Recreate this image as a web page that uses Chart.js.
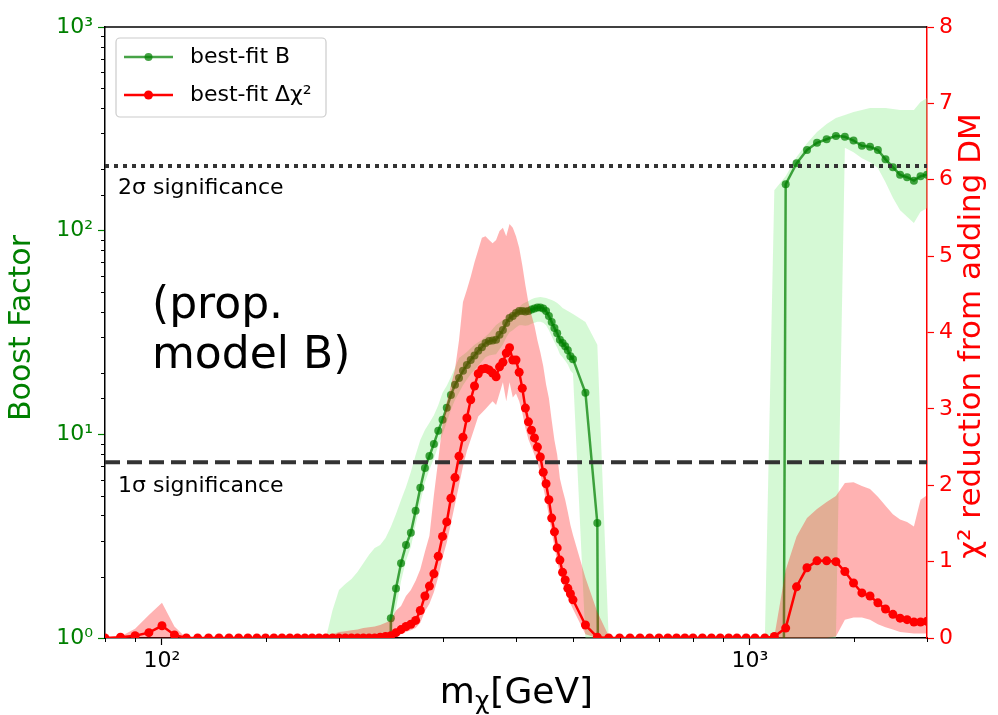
<!DOCTYPE html>
<html>
<head>
<meta charset="utf-8">
<title>Boost factor and chi2 reduction vs DM mass</title>
<script src="https://cdn.jsdelivr.net/npm/chart.js@4.4.0/dist/chart.umd.min.js"></script>
<style>
html, body { margin: 0; padding: 0; background: #fff; }
#wrap { width: 998px; height: 715px; }
</style>
</head>
<body>
<div id="wrap"><canvas id="myChart" width="998" height="715"></canvas></div>
<script>
// DM masses (GeV)
var masses = [
  80, 85, 90, 95, 100, 105, 110, 115, 120, 125, 130, 135, 140, 145, 150, 155, 160,
  165, 170, 175, 180, 185, 190, 195, 200, 205, 210, 215, 220, 225, 230, 235, 240,
  245, 250, 255, 260, 265, 270, 275, 280, 285, 290, 295, 300, 305, 310, 315, 320,
  325, 330, 335, 340, 345, 350, 355, 360, 365, 370, 375, 380, 385, 390, 395, 400,
  405, 410, 415, 420, 425, 430, 435, 440, 445, 450, 455, 460, 465, 470, 475, 480,
  485, 490, 495, 500,
  525, 550, 575, 600, 625, 650, 675, 700, 725, 750, 775, 800,
  830, 860, 890, 920, 950, 985, 1020, 1060, 1100,
  1150, 1200, 1250, 1300, 1350, 1400, 1450, 1500, 1550, 1600, 1650, 1700, 1750,
  1800, 1850, 1900, 1950, 2000
];

// best-fit boost factor (1e-12 = no boost, drawn below the axis)
var boostFactor = [
  1e-12, 1e-12, 1e-12, 1e-12, 1e-12, 1e-12, 1e-12, 1e-12, 1e-12, 1e-12, 1e-12, 1e-12, 1e-12, 1e-12, 1e-12, 1e-12, 1e-12,
  1e-12, 1e-12, 1e-12, 1e-12, 1e-12, 1e-12, 1e-12, 1e-12, 1e-12, 1e-12, 1e-12, 1e-12, 1e-12, 1e-12, 1e-12, 1e-12,
  1.25, 1.75, 2.33, 2.86, 3.29, 4.22, 5.47, 6.84, 7.83, 8.97, 10.4, 11.8, 13.5, 15.6, 17.5, 18.9,
  20.5, 21.9, 23.2, 24.4, 25.7, 26.8, 28.1, 28.7, 28.9, 29.1, 30.8, 32.5, 35.2, 37.3, 38.1, 39.4,
  40.3, 40.3, 40.1, 40.3, 41.0, 41.5, 42.0, 42.0, 41.5, 40.3, 38.1, 35.6, 33.3, 31.4, 29.1, 28.1,
  27.1, 25.9, 24.2, 23.4,
  16.0, 3.67, 1e-12, 1e-12, 1e-12, 1e-12, 1e-12, 1e-12, 1e-12, 1e-12, 1e-12, 1e-12,
  1e-12, 1e-12, 1e-12, 1e-12, 1e-12, 1e-12, 1e-12, 1e-12, 1e-12,
  169, 214, 249, 270, 281, 292, 289, 277, 261, 258, 249, 224, 205,
  188, 183, 176, 185, 188
];
var boostUpper = [
  1, 1, 1, 1, 1, 1, 1, 1, 1, 1, 1, 1, 1, 1, 1, 1, 1,
  1, 1, 1, 1, 1, 1, 1.37, 1.72, 1.84, 1.95, 2.11, 2.33, 2.56, 2.77, 2.86, 3.10,
  3.51, 4.06, 4.76, 5.51, 6.53, 7.92, 9.38, 10.5, 11.4, 12.4, 13.9, 16.0, 17.3, 19.1, 21.2, 23.7,
  24.5, 25.4, 26.5, 27.5, 28.3, 29.1, 30.2, 31.4, 32.9, 34.4, 35.4, 36.4, 37.2, 38.1, 39.4, 40.8,
  42.2, 43.6, 44.4, 45.2, 46.0, 46.7, 47.0, 47.2, 47.0, 46.7, 46.2, 45.7, 45.0, 44.2, 43.0, 41.7,
  41.0, 40.3, 39.6, 39.0,
  35.6, 27.5, 1, 1, 1, 1, 1, 1, 1, 1, 1, 1,
  1, 1, 1, 1, 1, 1, 1, 1, 158,
  185, 230, 269, 305, 334, 357, 370, 383, 391, 400, 400, 400, 396,
  391, 391, 391, 428, 448
];
var boostLower = [
  1, 1, 1, 1, 1, 1, 1, 1, 1, 1, 1, 1, 1, 1, 1, 1, 1,
  1, 1, 1, 1, 1, 1, 1, 1, 1, 1, 1, 1, 1, 1, 1, 1,
  1, 1.4, 1.9, 2.4, 2.8, 3.6, 4.6, 5.8, 6.7, 7.6, 8.8, 10.0, 11.5, 13.2, 14.8, 16.0,
  17.4, 18.6, 19.7, 20.7, 21.8, 22.8, 23.9, 24.4, 24.6, 24.7, 26.2, 27.6, 29.9, 31.7, 32.4, 33.5,
  34.3, 34.3, 34.1, 34.3, 34.9, 35.3, 35.7, 35.7, 35.3, 34.3, 32.4, 30.3, 28.3, 26.7, 24.7, 23.9,
  23.0, 22.0, 20.6, 19.9,
  1, 1, 1, 1, 1, 1, 1, 1, 1, 1, 1, 1,
  1, 1, 1, 1, 1, 1, 1, 1, 1,
  1, 1, 1, 1, 1, 1, 255, 243, 227, 217, 203, 173, 145,
  126, 117, 109, 124, 129
];

// best-fit chi2 reduction
var deltaChi2 = [
  0, 0.01, 0.03, 0.07, 0.16, 0.04, 0, 0, 0, 0, 0, 0, 0, 0, 0, 0, 0,
  0, 0, 0, 0, 0, 0, 0, 0, 0, 0, 0, 0, 0, 0, 0.01, 0.02,
  0.03, 0.07, 0.11, 0.15, 0.18, 0.23, 0.36, 0.55, 0.68, 0.84, 1.07, 1.33, 1.52, 1.83, 2.10, 2.38,
  2.63, 2.88, 3.12, 3.30, 3.46, 3.52, 3.53, 3.51, 3.47, 3.42, 3.55, 3.61, 3.73, 3.80, 3.64, 3.64,
  3.48, 3.27, 3.01, 2.83, 2.72, 2.62, 2.50, 2.37, 2.17, 2.02, 1.81, 1.57, 1.39, 1.18, 1.02, 0.86,
  0.76, 0.65, 0.58, 0.50,
  0.17, 0.01, 0, 0, 0, 0, 0, 0, 0, 0, 0, 0,
  0, 0, 0, 0, 0, 0, 0, 0, 0.02,
  0.13, 0.67, 0.92, 1.01, 1.01, 1.00, 0.87, 0.72, 0.59, 0.55, 0.46, 0.38, 0.31,
  0.26, 0.24, 0.21, 0.21, 0.22
];
var chi2Upper = [
  0, 0.02, 0.12, 0.30, 0.46, 0.15, 0, 0, 0, 0, 0, 0, 0, 0, 0, 0, 0,
  0, 0, 0, 0, 0, 0, 0.05, 0.08, 0.09, 0.10, 0.11, 0.13, 0.14, 0.15, 0.17, 0.20,
  0.23, 0.36, 0.42, 0.55, 0.63, 0.75, 0.90, 1.13, 1.34, 1.87, 2.33, 2.81, 3.09, 3.31, 3.52, 3.90,
  4.40, 4.56, 4.73, 4.92, 5.08, 5.24, 5.26, 5.21, 5.17, 5.21, 5.33, 5.37, 5.26, 5.42, 5.37, 5.26,
  5.11, 4.88, 4.62, 4.39, 4.23, 4.09, 3.90, 3.74, 3.56, 3.32, 3.14, 2.85, 2.59, 2.40, 2.09, 1.94,
  1.81, 1.65, 1.48, 1.35,
  0.79, 0.34, 0.03, 0, 0, 0, 0, 0, 0, 0, 0, 0,
  0, 0, 0, 0, 0, 0, 0, 0, 0.02,
  0.89, 1.33, 1.57, 1.69, 1.78, 1.86, 2.03, 2.04, 1.99, 1.95, 1.85, 1.73, 1.62,
  1.55, 1.52, 1.46, 1.81, 1.87
];
var chi2Lower = [
  0, 0, 0, 0, 0, 0, 0, 0, 0, 0, 0, 0, 0, 0, 0, 0, 0,
  0, 0, 0, 0, 0, 0, 0, 0, 0, 0, 0, 0, 0, 0, 0, 0,
  0, 0.03, 0.05, 0.08, 0.10, 0.13, 0.20, 0.35, 0.45, 0.60, 0.80, 1.05, 1.25, 1.50, 1.75, 2.00,
  2.25, 2.45, 2.60, 2.75, 2.90, 2.95, 3.00, 3.05, 3.10, 3.05, 3.20, 3.35, 3.10, 3.35, 3.15, 3.20,
  3.10, 2.95, 2.75, 2.60, 2.50, 2.40, 2.30, 2.15, 1.97, 1.80, 1.60, 1.38, 1.20, 1.00, 0.86, 0.72,
  0.62, 0.52, 0.45, 0.38,
  0.05, 0, 0, 0, 0, 0, 0, 0, 0, 0, 0, 0,
  0, 0, 0, 0, 0, 0, 0, 0, 0,
  0, 0, 0, 0, 0, 0.02, 0.24, 0.27, 0.27, 0.24, 0.18, 0.14, 0.11,
  0.08, 0.07, 0.06, 0.06, 0.06
];

// 1 sigma / 2 sigma thresholds on the chi2 axis
var sigmaLevels = [2.30, 6.18];
var sigmaLabels = ['1σ significance', '2σ significance'];

var GREEN = 'rgba(0,128,0,0.72)';
var RED = '#ff0000';
var FONT = '"DejaVu Sans", sans-serif';
var SUP = { 0: '⁰', 1: '¹', 2: '²', 3: '³' };

function pairs(ys) {
  return masses.map(function(m, i) { return { x: m, y: ys[i] }; });
}
function flat(v) {
  return [{ x: masses[0], y: v }, { x: masses[masses.length - 1], y: v }];
}
function isPow10(v) {
  var e = Math.log10(v);
  return Math.abs(e - Math.round(e)) < 1e-9;
}
function powLabel(value) {
  if (isPow10(value)) return '10' + SUP[Math.round(Math.log10(value))];
  return '';
}

// texts, legend, top spine and minor ticks
var annotations = {
  id: 'annotations',
  afterDraw: function(chart) {
    var c = chart.ctx, a = chart.chartArea;
    var yL = chart.scales.y, yR = chart.scales.y2, xs = chart.scales.x;
    c.save();

    c.strokeStyle = '#000';
    c.lineWidth = 1.5;
    c.beginPath(); c.moveTo(a.left, a.top); c.lineTo(a.right, a.top); c.stroke();

    // minor ticks (shorter)
    c.lineWidth = 1;
    yL.ticks.forEach(function(t) {
      if (isPow10(t.value)) return;
      var p = Math.round(yL.getPixelForValue(t.value)) + 0.5;
      c.beginPath(); c.moveTo(a.left - 4, p); c.lineTo(a.left, p); c.stroke();
    });
    xs.ticks.forEach(function(t) {
      if (isPow10(t.value)) return;
      var p = Math.round(xs.getPixelForValue(t.value)) + 0.5;
      c.beginPath(); c.moveTo(p, a.bottom); c.lineTo(p, a.bottom + 4); c.stroke();
    });

    // sigma labels
    c.fillStyle = '#000';
    c.font = '22px ' + FONT;
    c.textAlign = 'left';
    c.textBaseline = 'middle';
    c.fillText(sigmaLabels[1], 118, yR.getPixelForValue(sigmaLevels[1]) + 22);
    c.fillText(sigmaLabels[0], 118, yR.getPixelForValue(sigmaLevels[0]) + 24);

    // model note
    c.font = '44px ' + FONT;
    c.textBaseline = 'alphabetic';
    c.fillText('(prop.', 152, 318);
    c.fillText('model B)', 152, 368);

    // legend
    c.fillStyle = 'rgba(255,255,255,0.85)';
    c.strokeStyle = '#cccccc';
    c.lineWidth = 1.2;
    c.beginPath(); c.roundRect(116, 38, 210, 79, 4); c.fill(); c.stroke();
    var rows = [[GREEN, 'best-fit B', 57, 4], [RED, 'best-fit Δχ²', 95, 4.5]];
    rows.forEach(function(r) {
      c.strokeStyle = r[0]; c.lineWidth = 2.5;
      c.beginPath(); c.moveTo(124, r[2]); c.lineTo(173, r[2]); c.stroke();
      c.fillStyle = r[0];
      c.beginPath(); c.arc(148.5, r[2], r[3], 0, Math.PI * 2); c.fill();
      c.fillStyle = '#000';
      c.font = '22px ' + FONT;
      c.textBaseline = 'middle';
      c.fillText(r[1], 190, r[2]);
    });

    // axis titles
    c.textAlign = 'center';
    c.textBaseline = 'middle';
    c.save();
    c.font = '30px ' + FONT;
    c.fillStyle = 'green';
    c.translate(22, 328);
    c.rotate(-Math.PI / 2);
    c.fillText('Boost Factor', 0, 0);
    c.restore();
    c.save();
    c.font = '31px ' + FONT;
    c.fillStyle = RED;
    c.translate(972, 336);
    c.rotate(-Math.PI / 2);
    c.fillText('χ² reduction from adding DM', 0, 0);
    c.restore();

    // x title: m_chi [GeV]
    c.fillStyle = '#000';
    c.textAlign = 'left';
    c.textBaseline = 'alphabetic';
    c.font = '36px ' + FONT;
    var w1 = c.measureText('m').width, w3 = c.measureText('[GeV]').width;
    c.font = '25px ' + FONT;
    var w2 = c.measureText('χ').width;
    var x0 = 516 - (w1 + w2 + w3) / 2;
    c.font = '36px ' + FONT;
    c.fillText('m', x0, 703);
    c.fillText('[GeV]', x0 + w1 + w2 + 1, 703);
    c.font = '25px ' + FONT;
    c.fillText('χ', x0 + w1, 709);

    c.restore();
  }
};

var ctx = document.getElementById('myChart').getContext('2d');
Chart.defaults.font.family = FONT;

var chart = new Chart(ctx, {
  type: 'line',
  data: {
    datasets: [
      { label: 'best-fit Δχ²', yAxisID: 'y2', data: pairs(deltaChi2),
        borderColor: RED, backgroundColor: RED, borderWidth: 2.5,
        pointRadius: 4.5, pointBorderWidth: 0, fill: false },
      { label: sigmaLabels[0], yAxisID: 'y2', data: flat(sigmaLevels[0]),
        borderColor: '#333333', borderWidth: 4, borderDash: [15, 7], pointRadius: 0, fill: false },
      { label: sigmaLabels[1], yAxisID: 'y2', data: flat(sigmaLevels[1]),
        borderColor: '#333333', borderWidth: 4, borderDash: [4, 5], pointRadius: 0, fill: false },
      { label: 'chi2 upper', yAxisID: 'y2', data: pairs(chi2Upper),
        borderColor: 'transparent', borderWidth: 1, pointRadius: 0,
        fill: '+1', backgroundColor: 'rgba(255,0,0,0.3)' },
      { label: 'chi2 lower', yAxisID: 'y2', data: pairs(chi2Lower),
        borderColor: 'transparent', borderWidth: 1, pointRadius: 0, fill: false },
      { label: 'best-fit B', yAxisID: 'y', data: pairs(boostFactor),
        borderColor: GREEN, backgroundColor: GREEN, borderWidth: 2.5,
        pointRadius: 4, pointBorderWidth: 0, fill: false },
      { label: 'B upper', yAxisID: 'y', data: pairs(boostUpper),
        borderColor: 'transparent', borderWidth: 1, pointRadius: 0,
        fill: '+1', backgroundColor: 'rgba(144,238,144,0.38)' },
      { label: 'B lower', yAxisID: 'y', data: pairs(boostLower),
        borderColor: 'transparent', borderWidth: 1, pointRadius: 0, fill: false }
    ]
  },
  options: {
    responsive: false,
    animation: false,
    devicePixelRatio: 1,
    layout: { padding: { top: 27, left: 0, right: 0, bottom: 0 } },
    elements: { line: { tension: 0 } },
    plugins: { legend: { display: false }, tooltip: { enabled: false } },
    scales: {
      x: {
        type: 'logarithmic', min: 80, max: 2000,
        grid: { drawOnChartArea: false, tickLength: 7, tickWidth: 1.2,
          tickColor: function(c) { return c.tick && isPow10(c.tick.value) ? '#000' : 'transparent'; } },
        border: { color: '#000', width: 1.5 },
        ticks: { autoSkip: false, maxRotation: 0, padding: 3, color: '#000',
          font: { size: 22 }, callback: powLabel },
        afterFit: function(s) { s.height = 77; }
      },
      y: {
        type: 'logarithmic', position: 'left', min: 1, max: 1000,
        grid: { drawOnChartArea: false, tickLength: 7, tickWidth: 1.2,
          tickColor: function(c) { return c.tick && isPow10(c.tick.value) ? 'green' : 'transparent'; } },
        border: { color: '#000', width: 1.5 },
        ticks: { autoSkip: false, padding: 5, color: 'green',
          font: { size: 22 }, callback: powLabel },
        afterFit: function(s) { s.width = 105; }
      },
      y2: {
        type: 'linear', position: 'right', min: 0, max: 8,
        grid: { drawOnChartArea: false, tickLength: 7, tickWidth: 1.2, tickColor: RED },
        border: { color: RED, width: 1.5 },
        ticks: { stepSize: 1, padding: 5, color: RED, font: { size: 22 } },
        afterFit: function(s) { s.width = 71; }
      }
    }
  },
  plugins: [annotations]
});
</script>
</body>
</html>
